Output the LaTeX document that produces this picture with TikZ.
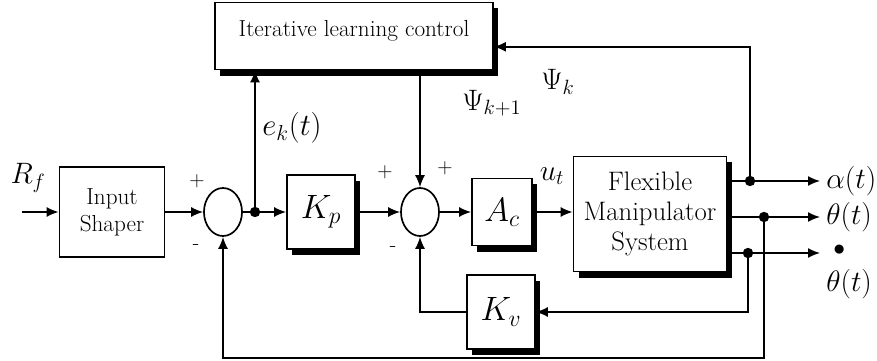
\documentclass[tikz,border=0pt]{standalone}
\usepackage{fix-cm}
\usepackage{amsmath}
\usepackage{fontspec}
\usetikzlibrary{arrows.meta,positioning,shapes.geometric,shadows}

\begin{document}
\begin{tikzpicture}[
  x=0.025cm, y=-0.025cm,
  box/.style={rectangle, draw, fill=white, line width=1.2pt, align=center, inner sep=1pt},
  sbox/.style={box, drop shadow={shadow xshift=0.13cm, shadow yshift=-0.15cm, fill=black, opacity=1}},
  sumnode/.style={ellipse, draw, line width=1.2pt, minimum width=0.95cm, minimum height=1.2cm, inner sep=0pt},
  dot/.style={circle, fill, inner sep=0pt, minimum size=0.26cm},
  arrow/.style={-{Latex[length=3mm,width=2.5mm]}, line width=1.1pt},
  wire/.style={line width=1.1pt},
  lbl/.style={inner sep=0pt, font=\fontsize{21}{24}\selectfont},
  gain/.style={sbox, minimum width=1.7cm, minimum height=1.85cm, font=\fontsize{24}{28}\selectfont},
  sgn/.style={inner sep=0pt, font=\fontsize{15}{16}\selectfont}
]
  \useasboundingbox (0,0) rectangle (877,361);

  \node[sbox, minimum width=6.95cm, minimum height=1.675cm, text depth=0.4cm, font=\fontsize{16.5}{18}\selectfont] (ilc) at (354,36) {Iterative learning control};
  \node[box, minimum width=2.625cm, minimum height=2.25cm, font=\fontsize{16.5}{19}\selectfont] (shaper) at (112,212) {Input\\Shaper};
  \node[sumnode] (sum1) at (223,212) {};
  \node[dot] (jn) at (255,212) {};
  \node[gain] (kp) at (321,212) {$K_p$};
  \node[sumnode] (sum2) at (420,212) {};
  \node[gain, minimum width=1.5cm, minimum height=1.675cm] (ac) at (502,212) {$A_c$};
  \node[sbox, minimum width=3.825cm, minimum height=2.875cm, font=\fontsize{19}{21.5}\selectfont] (fms) at (650,214) {Flexible\\Manipulator\\System};
  \node[gain] (kv) at (501,312) {$K_v$};

  \coordinate (rin) at (22,212);
  \coordinate (out1) at (820,181);
  \coordinate (out2) at (820,217);
  \coordinate (out3) at (820,253);
  \coordinate (bot) at (0,358);

  \draw[arrow] (rin) -- (shaper.west);
  \draw[arrow] (shaper) -- (sum1);
  \draw[wire] (sum1) -- (jn);
  \draw[arrow] (jn) -- (kp);
  \draw[arrow] (kp) -- (sum2);
  \draw[arrow] (sum2) -- (ac);
  \draw[arrow] (ac.east) -- (ac.east -| fms.west);

  \draw[arrow] (fms.east |- out1) -- (out1);
  \draw[arrow] (fms.east |- out2) -- (out2);
  \draw[arrow] (fms.east |- out3) -- (out3);
  \node[dot] (d1) at (750,181) {};
  \node[dot] (d2) at (764,217) {};
  \node[dot] (d3) at (748,253) {};

  \draw[arrow] (d1) |- ([yshift=-0.27cm]ilc.east);
  \draw[arrow] (jn) -- (jn |- ilc.south);
  \draw[arrow] (ilc.south -| sum2) -- (sum2.north);
  \draw[arrow] (d2) -- (d2 |- bot) -| (sum1.south);
  \draw[arrow] (d3) |- (kv.east);
  \draw[arrow] (kv.west) -| (sum2.south);

  \node[lbl] (rf) at (28,178) {$R_f$};
  \node[lbl, font=\fontsize{22}{24}\selectfont] (ek) at (292,128) {$e_k(t)$};
  \node[lbl] (psi1) at (492,103) {$\Psi_{k+1}$};
  \node[lbl] (psik) at (558,82) {$\Psi_k$};
  \node[lbl] (ut) at (552,176) {$u_t$};
  \node[lbl, anchor=west] (alpha) at (826,181) {$\alpha(t)$};
  \node[lbl, anchor=west] (theta) at (826,217) {$\theta(t)$};
  \node[lbl, anchor=west, align=left] (thetad) at (826,272) {\hspace{5pt}\scalebox{0.8}{$\bullet$}\\[1pt]$\theta(t)$};

  \node[sgn] (p1) at (197,181) {+};
  \node[sgn] (m1) at (196,247) {-};
  \node[sgn] (p2) at (385,172) {+};
  \node[sgn] (p3) at (445,168) {+};
  \node[sgn] (m2) at (393,249) {-};
\end{tikzpicture}
\end{document}
